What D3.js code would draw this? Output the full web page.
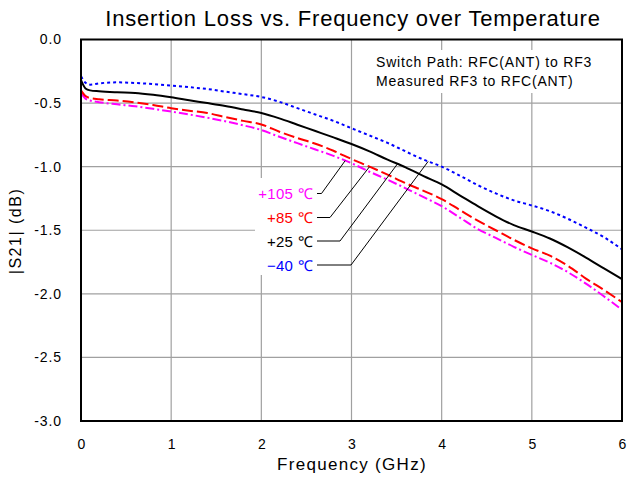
<!DOCTYPE html>
<html>
<head>
<meta charset="utf-8">
<script src="https://cdn.jsdelivr.net/npm/d3@7"></script>
<style>
  html, body { margin: 0; padding: 0; background: #fff; }
  svg { display: block; font-family: "Liberation Sans", Arial, Helvetica, sans-serif; }
</style>
</head>
<body>
<svg id="chart" width="630" height="480"></svg>
<script>
// ---- data ----
const freqGHz = [0, 0.05, 0.1, 0.2, 0.4, 0.6, 0.8, 1.0, 1.2, 1.4, 1.6, 1.8, 2.0, 2.2, 2.4, 2.6, 2.8, 3.0,
                 3.2, 3.4, 3.6, 3.8, 4.0, 4.2, 4.4, 4.6, 4.8, 5.0, 5.2, 5.4, 5.6, 5.8, 6.0];
const s21_m40 = [-0.29, -0.34, -0.355, -0.345, -0.337, -0.342, -0.35, -0.362, -0.375, -0.389, -0.41, -0.43,
                 -0.452, -0.49, -0.54, -0.59, -0.64, -0.698, -0.755, -0.813, -0.88, -0.945, -1.0, -1.07,
                 -1.145, -1.21, -1.265, -1.305, -1.35, -1.41, -1.48, -1.555, -1.65];
const s21_p25 = [-0.32, -0.385, -0.40, -0.407, -0.415, -0.42, -0.435, -0.455, -0.478, -0.50, -0.523, -0.55,
                 -0.578, -0.62, -0.67, -0.72, -0.77, -0.822, -0.88, -0.945, -1.005, -1.075, -1.14, -1.225,
                 -1.31, -1.39, -1.46, -1.51, -1.565, -1.635, -1.715, -1.80, -1.885];
const s21_p85 = [-0.40, -0.445, -0.46, -0.47, -0.48, -0.495, -0.515, -0.54, -0.56, -0.578, -0.61, -0.64,
                 -0.668, -0.725, -0.775, -0.82, -0.875, -0.94, -1.00, -1.063, -1.13, -1.19, -1.255, -1.34,
                 -1.425, -1.50, -1.575, -1.642, -1.70, -1.78, -1.88, -1.97, -2.065];
const s21_p105 = [-0.42, -0.465, -0.48, -0.493, -0.51, -0.525, -0.545, -0.567, -0.59, -0.615, -0.643, -0.675,
                  -0.712, -0.765, -0.815, -0.865, -0.915, -0.973, -1.04, -1.103, -1.17, -1.24, -1.31, -1.40,
                  -1.49, -1.56, -1.63, -1.694, -1.755, -1.83, -1.92, -2.02, -2.125];
const seriesNames = ["+105 \u2103", "+85 \u2103", "+25 \u2103", "\u221240 \u2103"];
const xTicks = [0, 1, 2, 3, 4, 5, 6];
const yTicks = [0, -0.5, -1.0, -1.5, -2.0, -2.5, -3.0];
const titleText = "Insertion Loss vs. Frequency over Temperature";
const xLabel = "Frequency (GHz)";
const yLabel = "|S21| (dB)";
const noteLines = ["Switch Path: RFC(ANT) to RF3", "Measured RF3 to RFC(ANT)"];
// frequency where each label's leader line touches its curve
const anchorFreq = [2.93, 3.2, 3.51, 3.85];

// ---- layout ----
const svg = d3.select("#chart");
const m = { left: 81, right: 622, top: 39.5, bottom: 421 };
const x = d3.scaleLinear().domain([0, 6]).range([m.left, m.right]);
const y = d3.scaleLinear().domain([0, -3]).range([m.top, m.bottom]);

const series = [
  { name: seriesNames[0], values: s21_p105, color: "#ff00ff", dash: "9,3,2,3" },
  { name: seriesNames[1], values: s21_p85,  color: "#ff0000", dash: "11,4" },
  { name: seriesNames[2], values: s21_p25,  color: "#000000", dash: null },
  { name: seriesNames[3], values: s21_m40,  color: "#0000ff", dash: "3,3" }
];

// grid
const grid = svg.append("g");
grid.selectAll("line.vx").data(xTicks.slice(1, -1)).join("line")
  .attr("x1", d => x(d)).attr("x2", d => x(d)).attr("y1", m.top).attr("y2", m.bottom)
  .attr("stroke", "#a0a0a0").attr("stroke-width", 1.2);
grid.selectAll("line.hy").data(yTicks.slice(1, -1)).join("line")
  .attr("y1", d => y(d)).attr("y2", d => y(d)).attr("x1", m.left).attr("x2", m.right)
  .attr("stroke", "#a0a0a0").attr("stroke-width", 1.2);

// white boxes behind text
svg.append("rect").attr("x", 370).attr("y", 50).attr("width", 232).attr("height", 43).attr("fill", "#fff");
svg.append("rect").attr("x", 255).attr("y", 178).attr("width", 94).attr("height", 97).attr("fill", "#fff");

// curves
const line = d3.line().x((d, i) => x(freqGHz[i])).y(d => y(d)).curve(d3.curveMonotoneX);
svg.append("g").selectAll("path").data(series).join("path")
  .attr("d", d => line(d.values))
  .attr("fill", "none")
  .attr("stroke", d => d.color)
  .attr("stroke-width", 2)
  .attr("stroke-dasharray", d => d.dash);

// frame
svg.append("rect").attr("x", m.left).attr("y", m.top)
  .attr("width", m.right - m.left).attr("height", m.bottom - m.top)
  .attr("fill", "none").attr("stroke", "#000").attr("stroke-width", 2);

// axes (labels only)
const xAxis = d3.axisBottom(x).tickValues(xTicks).tickFormat(d => String(d)).tickSize(0).tickPadding(18);
const gx = svg.append("g").attr("transform", `translate(0,${m.bottom})`).call(xAxis);
gx.select(".domain").remove();
gx.selectAll("text").attr("font-size", 14).attr("fill", "#000")
  .attr("font-family", "Liberation Sans, Arial, sans-serif");

const yAxis = d3.axisLeft(y).tickValues(yTicks).tickFormat(d => d.toFixed(1)).tickSize(0).tickPadding(19);
const gy = svg.append("g").attr("transform", `translate(${m.left},0)`).call(yAxis);
gy.select(".domain").remove();
gy.selectAll("text").attr("font-size", 14).attr("fill", "#000").attr("letter-spacing", 0.9)
  .attr("font-family", "Liberation Sans, Arial, sans-serif");

// titles
svg.append("text").attr("x", 353).attr("y", 26).attr("text-anchor", "middle")
  .attr("font-size", 22).attr("letter-spacing", 0.8).text(titleText);
svg.append("text").attr("x", 352).attr("y", 470).attr("text-anchor", "middle")
  .attr("font-size", 17).attr("letter-spacing", 1.3).text(xLabel);
svg.append("text").attr("transform", "translate(21,231) rotate(-90)").attr("text-anchor", "middle")
  .attr("font-size", 16).attr("letter-spacing", 1.5).text(yLabel);

// note
svg.append("g").selectAll("text").data(noteLines).join("text")
  .attr("x", 376).attr("y", (d, i) => 66.5 + i * 19)
  .attr("font-size", 14).attr("letter-spacing", 0.8).text(d => d);

// labels with leader lines
const labelY = [193.5, 217.5, 241, 265];
const elbowX = [321.5, 330, 340, 351];
const interp = (vals, f) => {
  const i = d3.bisectRight(freqGHz, f) - 1;
  const t = (f - freqGHz[i]) / (freqGHz[i + 1] - freqGHz[i]);
  return vals[i] + t * (vals[i + 1] - vals[i]);
};
series.forEach((s, i) => {
  const ax = x(anchorFreq[i]), ay = y(interp(s.values, anchorFreq[i]));
  svg.append("polyline")
    .attr("points", `${317},${labelY[i]} ${elbowX[i]},${labelY[i]} ${ax},${ay}`)
    .attr("fill", "none").attr("stroke", "#000").attr("stroke-width", 1);
  svg.append("text").attr("x", 313).attr("y", labelY[i] + 5.5)
    .attr("text-anchor", "end").attr("font-size", 15).attr("letter-spacing", 0.3)
    .attr("fill", s.color).text(s.name);
});
</script>
</body>
</html>
